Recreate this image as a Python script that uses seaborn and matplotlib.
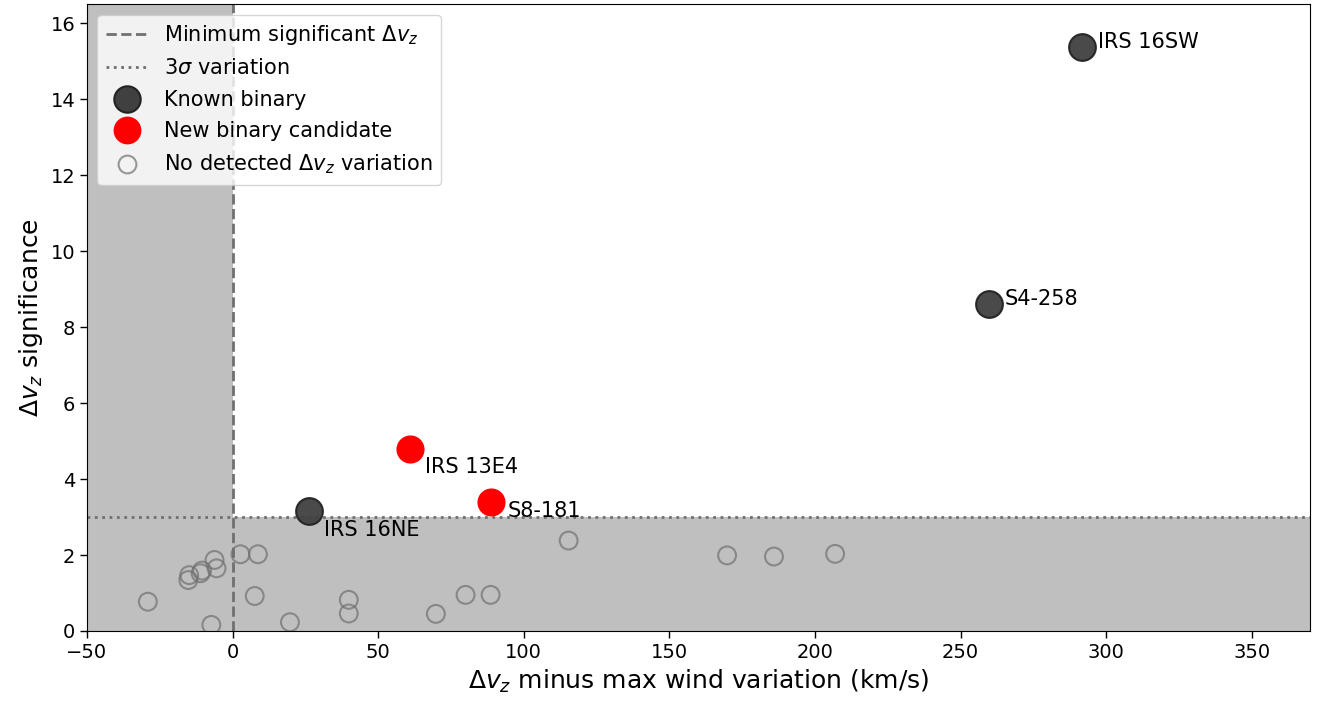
import matplotlib.pyplot as plt
import numpy as np
import pandas as pd
import seaborn as sns
from matplotlib.lines import Line2D

# stars with no detected variation
none_x = [-29.1, -15.2, -14.9, -11.0, -10.5, -6.2, -5.5, -7.3, 2.7, 8.7, 7.6,
          19.7, 39.9, 39.9, 69.8, 80.0, 88.6, 115.4, 169.8, 185.9, 206.9]
none_y = [0.77, 1.34, 1.47, 1.52, 1.59, 1.87, 1.65, 0.16, 2.02, 2.02, 0.92,
          0.23, 0.82, 0.46, 0.45, 0.95, 0.95, 2.38, 1.99, 1.96, 2.03]

known_names = ["IRS 16SW", "S4-258", "IRS 16NE"]
known_x = [291.8, 259.8, 26.1]
known_y = [15.37, 8.6, 3.16]

new_names = ["IRS 13E4", "S8-181"]
new_x = [60.8, 88.7]
new_y = [4.79, 3.39]

min_dv = 0
sigma3 = 3

df_none = pd.DataFrame({"x": none_x, "y": none_y})
df_known = pd.DataFrame({"x": known_x, "y": known_y, "name": known_names})
df_new = pd.DataFrame({"x": new_x, "y": new_y, "name": new_names})

fig = plt.figure(figsize=(13.18, 7.05), dpi=100)
ax = fig.add_axes([0.066, 0.105, 0.928, 0.889])

ax.axvspan(-50, min_dv, color="#bfbfbf", lw=0, zorder=0)
ax.axhspan(0, sigma3, color="#bfbfbf", lw=0, zorder=0)
ax.axvline(min_dv, color="#707070", ls="--", lw=2, zorder=1)
ax.axhline(sigma3, color="#707070", ls=":", lw=2, zorder=1)

sns.scatterplot(data=df_none, x="x", y="y", ax=ax, s=165, facecolor="none",
                edgecolor="#707070", linewidth=1.5, alpha=0.7, zorder=3)
sns.scatterplot(data=df_known, x="x", y="y", ax=ax, s=370, color="#404040",
                edgecolor="#222222", linewidth=1.5, alpha=0.95, zorder=4)
sns.scatterplot(data=df_new, x="x", y="y", ax=ax, s=370, color="red",
                edgecolor="red", linewidth=1, zorder=4)

# labels next to the binaries (data offsets of the text baseline)
offsets = {"IRS 16SW": (5.2, -0.03),
           "S4-258": (5.2, -0.03),
           "IRS 16NE": (5.2, -0.66),
           "IRS 13E4": (5.2, -0.63),
           "S8-181": (5.8, -0.39)}
for d in (df_known, df_new):
    for _, r in d.iterrows():
        dx, dy = offsets[r["name"]]
        ax.text(r["x"] + dx, r["y"] + dy, r["name"], fontsize=15,
                ha="left", va="baseline", zorder=5)

ax.set_xlim(-50, 370)
ax.set_ylim(0, 16.5)
ax.set_xticks(np.arange(-50, 351, 50))
ax.set_yticks(np.arange(0, 17, 2))
ax.tick_params(labelsize=14, length=5, width=1)
ax.set_xlabel(r"$\Delta v_z$ minus max wind variation (km/s)", fontsize=18)
ax.set_ylabel(r"$\Delta v_z$ significance", fontsize=18)

handles = [
    Line2D([], [], color="#707070", ls="--", lw=2),
    Line2D([], [], color="#707070", ls=":", lw=2),
    Line2D([], [], marker="o", ls="", markersize=19, color="#404040",
           markeredgecolor="#222222", markeredgewidth=1.5),
    Line2D([], [], marker="o", ls="", markersize=19, color="red"),
    Line2D([], [], marker="o", ls="", markersize=12.8, markerfacecolor="none",
           markeredgecolor="#707070", markeredgewidth=1.5, alpha=0.7),
]
labels = [r"Minimum significant $\Delta v_z$", r"3$\sigma$ variation",
          "Known binary", "New binary candidate",
          r"No detected $\Delta v_z$ variation"]
ax.legend(handles, labels, loc="upper left", fontsize=15,
          borderpad=0.4, labelspacing=0.55)

fig.savefig("out.png", dpi=100)
